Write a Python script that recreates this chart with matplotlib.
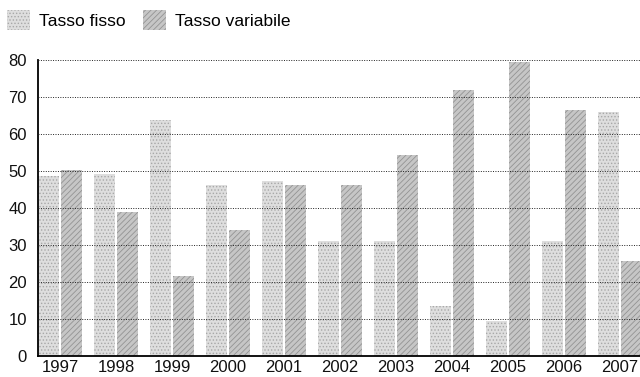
import numpy as np
import matplotlib
matplotlib.use("Agg")
import matplotlib.pyplot as plt
from matplotlib.patches import Patch

plt.rcParams['font.family'] = ['Liberation Sans', 'DejaVu Sans']
plt.rcParams['hatch.linewidth'] = 0.6

years = ['1997', '1998', '1999', '2000', '2001', '2002',
         '2003', '2004', '2005', '2006', '2007']
tasso_fisso = [48.6, 49.2, 63.8, 46.2, 47.4, 31.0, 31.0, 13.6, 9.4, 31.1, 66.0]
tasso_variabile = [50.3, 38.9, 21.6, 34.1, 46.2, 46.2, 54.4, 72.0, 79.5, 66.6, 25.7]
series_names = ['Tasso fisso', 'Tasso variabile']

fig = plt.figure(figsize=(6.4, 3.77), dpi=100)
ax = fig.add_axes([38 / 640, 21 / 377, 1 - 38 / 640, 296 / 377])

x = np.arange(len(years))
w = 0.36
off = 0.205
fixed_style = dict(facecolor='#dedede', edgecolor='#a8a8a8', hatch='.....', linewidth=0)
var_style = dict(facecolor='#c6c6c6', edgecolor='#939393', hatch='//////', linewidth=0)

ax.bar(x - off, tasso_fisso, w, zorder=1, **fixed_style)
ax.bar(x + off, tasso_variabile, w, zorder=1, **var_style)

ax.set_ylim(0, 80)
ax.set_xlim(-0.393, 10.357)
ax.set_yticks(range(0, 81, 10))
ax.set_xticks(x, years)
ax.yaxis.grid(True, linestyle=(0, (1, 1.5)), color='#222222', linewidth=0.7, zorder=3)
ax.set_axisbelow(False)
for s in ['top', 'right']:
    ax.spines[s].set_visible(False)
ax.spines['left'].set_linewidth(1.3)
ax.spines['bottom'].set_linewidth(1.3)
ax.tick_params(axis='both', length=0, labelsize=12, colors='#111111')
ax.tick_params(axis='y', pad=8)
ax.tick_params(axis='x', pad=3)

handles = [Patch(label=series_names[0], **fixed_style),
           Patch(label=series_names[1], **var_style)]
fig.legend(handles=handles, loc='center left', bbox_to_anchor=(7 / 640, 1 - 20 / 377), ncol=2,
           frameon=False, fontsize=12.5, handlelength=1.3, handleheight=1.35,
           handletextpad=0.55, columnspacing=1.0, borderaxespad=0, borderpad=0)

fig.savefig('out.png', dpi=100)
